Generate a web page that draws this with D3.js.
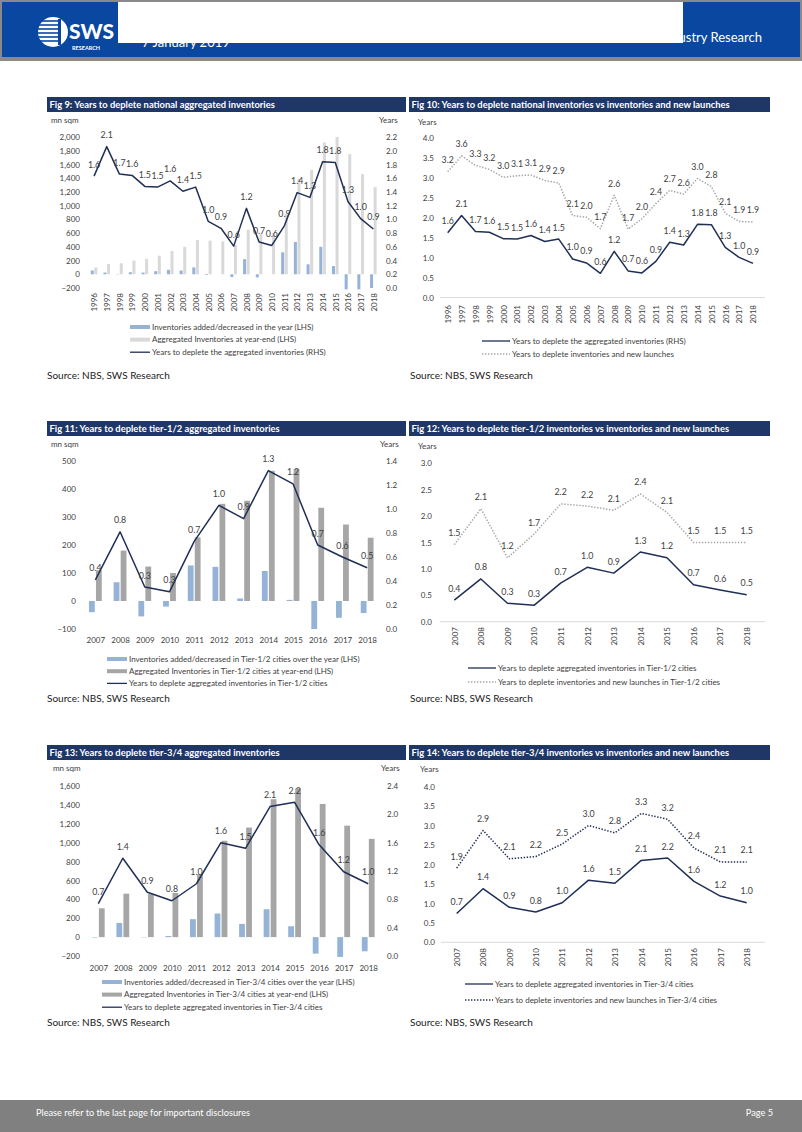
<!DOCTYPE html>
<html><head><meta charset="utf-8">
<script src="https://cdn.jsdelivr.net/npm/d3@7"></script>
<style>
body{margin:0;background:#fff;}
svg{display:block;font-family:Lato,'Noto Sans',sans-serif;}
</style></head><body>
<svg id="page" width="802" height="1132"></svg>
<script>
// ---------------- DATA ----------------
const catsNational = ["1996","1997","1998","1999","2000","2001","2002","2003","2004","2005","2006","2007","2008","2009","2010","2011","2012","2013","2014","2015","2016","2017","2018"];
const natAdded      = [55, 25, 5, 30, 25, 45, 65, 55, 100, -10, 0, -40, 220, -45, 0, 320, 470, 145, 400, 120, -220, -220, -200];
const natAggregated = [100, 150, 160, 200, 225, 270, 340, 400, 500, 490, 480, 430, 650, 585, 600, 880, 1390, 1520, 1920, 2000, 1750, 1460, 1270];
const natYears      = [1.63, 2.06, 1.66, 1.64, 1.48, 1.47, 1.56, 1.41, 1.47, 0.97, 0.87, 0.61, 1.16, 0.67, 0.62, 0.91, 1.39, 1.32, 1.84, 1.83, 1.26, 1.01, 0.86];
const natYearsLaunch= [3.16, 3.56, 3.32, 3.22, 3.02, 3.06, 3.08, 2.94, 2.88, 2.06, 2.02, 1.73, 2.57, 1.72, 1.98, 2.36, 2.69, 2.6, 2.99, 2.79, 2.12, 1.91, 1.9];

const catsTier = ["2007","2008","2009","2010","2011","2012","2013","2014","2015","2016","2017","2018"];
const t12Added       = [-40, 67, -55, -20, 127, 122, 9, 107, 4, -100, -60, -43];
const t12Aggregated  = [110, 180, 123, 100, 227, 347, 358, 465, 472, 333, 273, 226];
const t12Years       = [0.41, 0.81, 0.35, 0.31, 0.73, 1.03, 0.92, 1.32, 1.21, 0.70, 0.60, 0.51];
const t12YearsLaunch = [1.46, 2.14, 1.21, 1.66, 2.23, 2.19, 2.11, 2.42, 2.07, 1.50, 1.50, 1.50];

const t34Added       = [-5, 150, -3, 12, 190, 250, 140, 295, 115, -175, -210, -150];
const t34Aggregated  = [305, 460, 455, 468, 664, 1020, 1160, 1460, 1575, 1410, 1180, 1040];
const t34Years       = [0.74, 1.38, 0.90, 0.78, 1.02, 1.60, 1.52, 2.11, 2.17, 1.57, 1.19, 1.02];
const t34YearsLaunch = [1.91, 2.88, 2.15, 2.21, 2.53, 3.01, 2.82, 3.32, 3.17, 2.43, 2.07, 2.07];

const fig9LeftTicks  = [-200, 0, 200, 400, 600, 800, 1000, 1200, 1400, 1600, 1800, 2000];
const fig9RightTicks = [0, 0.2, 0.4, 0.6, 0.8, 1.0, 1.2, 1.4, 1.6, 1.8, 2.0, 2.2];
const fig10Ticks     = [0, 0.5, 1.0, 1.5, 2.0, 2.5, 3.0, 3.5, 4.0];
const fig11LeftTicks = [-100, 0, 100, 200, 300, 400, 500];
const fig11RightTicks= [0, 0.2, 0.4, 0.6, 0.8, 1.0, 1.2, 1.4];
const fig12Ticks     = [0, 0.5, 1.0, 1.5, 2.0, 2.5, 3.0];
const fig13LeftTicks = [-200, 0, 200, 400, 600, 800, 1000, 1200, 1400, 1600];
const fig13RightTicks= [0, 0.4, 0.8, 1.2, 1.6, 2.0, 2.4];
const fig14Ticks     = [0, 0.5, 1.0, 1.5, 2.0, 2.5, 3.0, 3.5, 4.0];

// ---------------- STYLE ----------------
const FONT = "Lato,'Noto Sans',sans-serif";
const TITLEBG = "#1f3766";
const LINEC = "#1f2f55";
const BLUE = "#95b3d7";
const GREYL = "#d9d9d9";
const GREYD = "#a6a6a6";
const DOTG = "#a6a6a6";
const TXT = "#404040";

const svg = d3.select("#page");
const f1 = d3.format(".1f");

// ---------------- HEADER / FOOTER ----------------
svg.append("rect").attr("x",0).attr("y",0).attr("width",802).attr("height",61).attr("fill","#8a8a8a");
svg.append("rect").attr("x",2).attr("y",2).attr("width",798).attr("height",55).attr("fill","#0a47a0");
// logo
const logo = svg.append("g");
logo.append("circle").attr("cx",53).attr("cy",32).attr("r",15).attr("fill","#fff");
[21,25,29,33,37,41].forEach(yy=>logo.append("line").attr("x1",38).attr("x2",58).attr("y1",yy).attr("y2",yy).attr("stroke","#0a47a0").attr("stroke-width",1.6));
logo.append("rect").attr("x",58).attr("y",19).attr("width",3).attr("height",26).attr("fill","#0a47a0");
logo.append("text").attr("x",69).attr("y",39).attr("fill","#fff").attr("font-size",21).attr("font-weight",900).text("SWS");
logo.append("text").attr("x",72).attr("y",50).attr("fill","#fff").attr("font-size",5.5).attr("font-weight",700).text("RESEARCH");
svg.append("text").attr("x",142).attr("y",47).attr("fill","#fff").attr("font-size",13).text("7 January 2019");
svg.append("text").attr("x",762).attr("y",42).attr("text-anchor","end").attr("fill","#fff").attr("font-size",13).text("Industry Research");
svg.append("rect").attr("x",118).attr("y",2).attr("width",565).attr("height",41).attr("fill","#fff");

svg.append("rect").attr("x",0).attr("y",1100).attr("width",802).attr("height",32).attr("fill","#808080");
svg.append("text").attr("x",36).attr("y",1116).attr("fill","#fff").attr("font-size",9.2).text("Please refer to the last page for important disclosures");
svg.append("text").attr("x",773).attr("y",1116).attr("text-anchor","end").attr("fill","#fff").attr("font-size",9.2).text("Page 5");

// ---------------- HELPERS ----------------
function titleBar(x, y, w, text) {
  svg.append("rect").attr("x",x).attr("y",y).attr("width",w).attr("height",15).attr("fill",TITLEBG);
  svg.append("text").attr("x",x+2.5).attr("y",y+11).attr("fill","#fff").attr("font-weight",700).attr("font-size",9.4).text(text);
}
function txt(x, y, s, size, anchor) {
  return svg.append("text").attr("x",x).attr("y",y).attr("fill",TXT).attr("font-size",size||8)
    .attr("text-anchor",anchor||"start").text(s);
}
function source(x, y) { txt(x, y, "Source: NBS, SWS Research", 10).attr("fill","#222"); }

function styleAxis(sel) {
  sel.select(".domain").remove();
  sel.attr("font-family",FONT).attr("font-size",8);
  sel.selectAll("text").attr("fill",TXT);
}

function xLabels(g, scale, cats, yTop, rotated) {
  const ax = d3.axisBottom(scale).tickSize(0).tickPadding(0);
  const a = g.append("g").attr("transform",`translate(0,${yTop})`).call(ax);
  styleAxis(a);
  if (rotated) {
    a.selectAll("text").attr("transform","rotate(-90)").attr("text-anchor","end")
      .attr("x",0).attr("y",0).attr("dy","0.35em");
  } else {
    a.selectAll("text").attr("y",0).attr("dy","0.71em");
  }
}

function drawLine(g, scale, y, cats, vals, color, dashed, labels) {
  const line = d3.line().x((d,i)=>scale(cats[i])).y(d=>y(d));
  g.append("path").datum(vals).attr("d",line).attr("fill","none").attr("stroke",color)
    .attr("stroke-width",1.5).attr("stroke-dasharray",dashed?"1.4 1.6":null).attr("stroke-linejoin","round");
  if (labels) {
    g.append("g").selectAll("text").data(vals).join("text")
      .attr("x",(d,i)=>scale(cats[i])).attr("y",d=>y(d)-8.5)
      .attr("text-anchor","middle").attr("font-size",8.8).attr("fill",TXT).text(d=>f1(d));
  }
}

function combo(o) {
  const g = svg.append("g");
  const band = d3.scaleBand().domain(o.cats).range(o.xRange);
  const pt = d3.scalePoint().domain(o.cats).range([o.xRange[0]+band.bandwidth()/2, o.xRange[1]-band.bandwidth()/2]);
  const yL = d3.scaleLinear().domain(o.lDom).range([o.yB, o.yT]);
  const yR = d3.scaleLinear().domain(o.rDom).range([o.yB, o.yT]);
  styleAxis(g.append("g").attr("transform",`translate(${o.lx},0)`)
    .call(d3.axisLeft(yL).tickValues(o.lTicks).tickFormat(d3.format(",")).tickSize(0).tickPadding(0)));
  styleAxis(g.append("g").attr("transform",`translate(${o.rx},0)`)
    .call(d3.axisRight(yR).tickValues(o.rTicks).tickFormat(f1).tickSize(0).tickPadding(0)));
  // bars
  g.append("g").selectAll("rect").data(o.agg).join("rect")
    .attr("x",(d,i)=>pt(o.cats[i])+o.gap/2).attr("width",o.bw)
    .attr("y",d=>Math.min(yL(d),yL(0))).attr("height",d=>Math.abs(yL(d)-yL(0))).attr("fill",o.aggColor);
  g.append("g").selectAll("rect").data(o.added).join("rect")
    .attr("x",(d,i)=>pt(o.cats[i])-o.gap/2-o.bw).attr("width",o.bw)
    .attr("y",d=>Math.min(yL(d),yL(0))).attr("height",d=>Math.abs(yL(d)-yL(0))).attr("fill",BLUE);
  drawLine(g, pt, yR, o.cats, o.years, LINEC, false, true);
  xLabels(g, pt, o.cats, o.xLabY, o.rotated);
  // units
  txt(o.unitL[0], o.unitL[1], "mn sqm", 8);
  txt(o.unitR[0], o.unitR[1], "Years", 8);
  // legend
  const L = o.legend;
  L.items.forEach((it, i) => {
    const yy = L.y + i*L.dy;
    if (it.type === "rect") {
      svg.append("rect").attr("x",L.x).attr("y",yy-2).attr("width",20).attr("height",4).attr("fill",it.color);
    } else {
      svg.append("line").attr("x1",L.x).attr("x2",L.x+20).attr("y1",yy).attr("y2",yy).attr("stroke",it.color).attr("stroke-width",1.3);
    }
    txt(L.x+22, yy+2.8, it.label, 8);
  });
}

function lines2(o) {
  const g = svg.append("g");
  const pt = d3.scalePoint().domain(o.cats).range(o.ptRange);
  const y = d3.scaleLinear().domain(o.dom).range([o.yB, o.yT]);
  styleAxis(g.append("g").attr("transform",`translate(${o.lx},0)`)
    .call(d3.axisLeft(y).tickValues(o.ticks).tickFormat(f1).tickSize(0).tickPadding(0)));
  g.append("line").attr("x1",o.axX[0]).attr("x2",o.axX[1]).attr("y1",y(0)).attr("y2",y(0)).attr("stroke","#d9d9d9").attr("stroke-width",1);
  drawLine(g, pt, y, o.cats, o.s2, o.dotColor, true, true);
  drawLine(g, pt, y, o.cats, o.s1, LINEC, false, true);
  xLabels(g, pt, o.cats, o.xLabY, true);
  txt(o.unit[0], o.unit[1], "Years", 8);
  const L = o.legend;
  [[LINEC,false,L.l1],[o.dotColor,true,L.l2]].forEach((it,i)=>{
    const yy = L.y + i*L.dy;
    svg.append("line").attr("x1",L.x).attr("x2",L.x+28).attr("y1",yy).attr("y2",yy).attr("stroke",it[0])
      .attr("stroke-width",1.3).attr("stroke-dasharray",it[1]?"1.4 1.6":null);
    txt(L.x+30, yy+2.8, it[2], 8);
  });
}

// ---------------- FIG 9 ----------------
titleBar(47, 97, 359, "Fig 9: Years to deplete national aggregated inventories");
combo({cats:catsNational, added:natAdded, agg:natAggregated, years:natYears,
  xRange:[87.7,379.7], lDom:[-200,2000], rDom:[0,2.2], yB:288, yT:137,
  lTicks:fig9LeftTicks, rTicks:fig9RightTicks, lx:80, rx:386, bw:3, gap:0.6, aggColor:GREYL,
  xLabY:293, rotated:true, unitL:[51,123], unitR:[379,123],
  legend:{x:130, y:327, dy:12.6, items:[
    {type:"rect", color:BLUE, label:"Inventories added/decreased in the year (LHS)"},
    {type:"rect", color:GREYL, label:"Aggregated Inventories at year-end (LHS)"},
    {type:"line", color:LINEC, label:"Years to deplete the aggregated inventories (RHS)"}]}});
source(47, 379);

// ---------------- FIG 10 ----------------
titleBar(409, 97, 361, "Fig 10: Years to deplete national inventories vs inventories and new launches");
lines2({cats:catsNational, s1:natYears, s2:natYearsLaunch, ptRange:[447.7,753], dom:[0,4], yB:297.6, yT:138.3,
  ticks:fig10Ticks, lx:434, axX:[440,765], xLabY:305, dotColor:DOTG, unit:[418,125],
  legend:{x:482, y:341, dy:13, l1:"Years to deplete the aggregated inventories (RHS)", l2:"Years to deplete inventories and new launches"}});
source(410, 379);

// ---------------- FIG 11 ----------------
titleBar(47, 421, 359, "Fig 11: Years to deplete tier-1/2 aggregated inventories");
combo({cats:catsTier, added:t12Added, agg:t12Aggregated, years:t12Years,
  xRange:[83,379.5], lDom:[-100,500], rDom:[0,1.4], yB:629, yT:461,
  lTicks:fig11LeftTicks, rTicks:fig11RightTicks, lx:76, rx:386, bw:5.8, gap:1.2, aggColor:GREYD,
  xLabY:637, rotated:false, unitL:[51,447], unitR:[380,447],
  legend:{x:107, y:659, dy:12.2, items:[
    {type:"rect", color:BLUE, label:"Inventories added/decreased in Tier-1/2 cities over the year (LHS)"},
    {type:"rect", color:GREYD, label:"Aggregated Inventories in Tier-1/2 cities at year-end (LHS)"},
    {type:"line", color:LINEC, label:"Years to deplete aggregated inventories in Tier-1/2 cities"}]}});
source(47, 702);

// ---------------- FIG 12 ----------------
titleBar(409, 421, 361, "Fig 12: Years to deplete tier-1/2 inventories vs inventories and new launches");
lines2({cats:catsTier, s1:t12Years, s2:t12YearsLaunch, ptRange:[454.3,746.7], dom:[0,3], yB:621.7, yT:463.3,
  ticks:fig12Ticks, lx:432, axX:[440,765], xLabY:627, dotColor:DOTG, unit:[418,449],
  legend:{x:468, y:668, dy:14, l1:"Years to deplete aggregated inventories in Tier-1/2 cities", l2:"Years to deplete inventories and new launches in Tier-1/2 cities"}});
source(410, 702);

// ---------------- FIG 13 ----------------
titleBar(47, 745, 359, "Fig 13: Years to deplete tier-3/4 aggregated inventories");
combo({cats:catsTier, added:t34Added, agg:t34Aggregated, years:t34Years,
  xRange:[86,380.5], lDom:[-200,1600], rDom:[0,2.4], yB:956, yT:786,
  lTicks:fig13LeftTicks, rTicks:fig13RightTicks, lx:80, rx:387, bw:5.8, gap:1.2, aggColor:GREYD,
  xLabY:965, rotated:false, unitL:[53,771], unitR:[381,771],
  legend:{x:102, y:982, dy:12.6, items:[
    {type:"rect", color:BLUE, label:"Inventories added/decreased in Tier-3/4 cities over the year (LHS)"},
    {type:"rect", color:GREYD, label:"Aggregated Inventories in Tier-3/4 cities at year-end (LHS)"},
    {type:"line", color:LINEC, label:"Years to deplete aggregated inventories in Tier-3/4 cities"}]}});
source(47, 1026);

// ---------------- FIG 14 ----------------
titleBar(409, 745, 361, "Fig 14: Years to deplete tier-3/4 inventories vs inventories and new launches");
lines2({cats:catsTier, s1:t34Years, s2:t34YearsLaunch, ptRange:[456.7,746.7], dom:[0,4], yB:942.3, yT:787,
  ticks:fig14Ticks, lx:435, axX:[441,765], xLabY:948, dotColor:LINEC, unit:[420,772],
  legend:{x:465, y:984, dy:16, l1:"Years to deplete aggregated inventories in Tier-3/4 cities", l2:"Years to deplete inventories and new launches in Tier-3/4 cities"}});
source(410, 1026);
</script>
</body></html>
